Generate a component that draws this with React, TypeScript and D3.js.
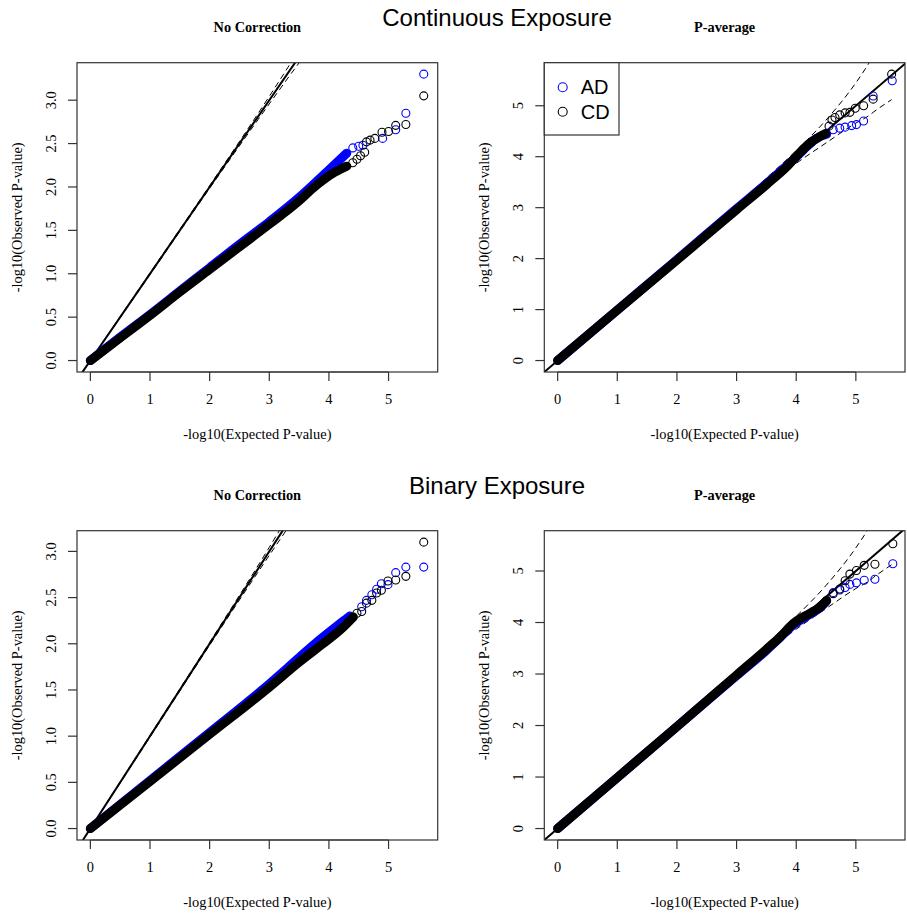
import React from "react";
import * as d3 from "d3";

// ---------- tick labels / titles ----------
const xTicks = [0, 1, 2, 3, 4, 5];
const yTicksNoCorr = [0, 0.5, 1, 1.5, 2, 2.5, 3];
const yTicksPavg = [0, 1, 2, 3, 4, 5];
const columnTitles = ["No Correction", "P-average"];
const rowTitles = ["Continuous Exposure", "Binary Exposure"];
const seriesNames = ["AD", "CD"];
const seriesColors = ["#0000ff", "#000000"];
const xLabel = "-log10(Expected P-value)";
const yLabel = "-log10(Observed P-value)";
const maxExpected = 5.6;

// ---------- 95% band of expected order statistics [expected, lower, upper] ----------
const ciExpected = [0, 1, 2, 3, 3.5, 4, 4.5, 5, 5.21, 5.3, 5.6];
const ciLower = [0, 0.99, 1.985, 2.957, 3.43, 3.87, 4.27, 4.66, 4.8, 4.88, 5.12];
const ciUpper = [0, 1.01, 2.015, 3.044, 3.58, 4.12, 4.72, 5.45, 5.82, 6.0, 7.0];

// ---------- Continuous exposure, no correction ----------
const contNoCorrMax = 3.3;
const contNoCorrADBulk = [[0, 0], [0.5, 0.27], [1, 0.53], [1.5, 0.8], [2, 1.07], [2.5, 1.34], [3, 1.6], [3.5, 1.88], [3.85, 2.1], [4.1, 2.26], [4.3, 2.39]];
const contNoCorrCDBulk = [[0, 0], [0.5, 0.26], [1, 0.52], [1.5, 0.79], [2, 1.05], [2.5, 1.31], [3, 1.57], [3.5, 1.84], [3.74, 1.99], [4.1, 2.17], [4.3, 2.24]];
const contNoCorrADTail = [[4.4, 2.45], [4.5, 2.47], [4.57, 2.48], [4.9, 2.56], [5.12, 2.66], [5.29, 2.85], [5.59, 3.3]];
const contNoCorrCDTail = [[4.4, 2.28], [4.47, 2.32], [4.53, 2.36], [4.6, 2.4], [4.63, 2.52], [4.69, 2.54], [4.77, 2.56], [4.89, 2.63], [5.0, 2.64], [5.12, 2.71], [5.29, 2.72], [5.59, 3.05]];

// ---------- Continuous exposure, P-average ----------
const contPavgMax = 5.62;
const contPavgADBulk = [[0, 0], [1, 0.99], [2, 1.98], [3, 2.98], [3.5, 3.47], [3.84, 3.82], [4.06, 4.06], [4.18, 4.2], [4.34, 4.36], [4.51, 4.44]];
const contPavgCDBulk = [[0, 0], [1, 0.99], [2, 1.97], [3, 2.96], [3.5, 3.45], [3.84, 3.8], [4.06, 4.08], [4.2, 4.24], [4.4, 4.4], [4.5, 4.46]];
const contPavgADTail = [[4.62, 4.53], [4.73, 4.56], [4.82, 4.58], [4.93, 4.61], [5.01, 4.63], [5.13, 4.7], [5.29, 5.19], [5.61, 5.49]];
const contPavgCDTail = [[4.55, 4.6], [4.6, 4.72], [4.65, 4.77], [4.73, 4.82], [4.82, 4.86], [4.9, 4.87], [4.99, 4.95], [5.13, 5.0], [5.29, 5.13], [5.6, 5.62]];

// ---------- Binary exposure, no correction ----------
const binNoCorrMax = 3.1;
const binNoCorrADBulk = [[0, 0], [1, 0.52], [2, 1.04], [2.88, 1.5], [3.5, 1.85], [3.8, 2.02], [4.07, 2.16], [4.25, 2.25], [4.35, 2.3]];
const binNoCorrCDBulk = [[0, 0], [1, 0.51], [2, 1.02], [3, 1.53], [3.5, 1.8], [3.9, 2.0], [4.19, 2.15], [4.41, 2.29]];
const binNoCorrADTail = [[4.55, 2.4], [4.63, 2.47], [4.72, 2.53], [4.8, 2.59], [4.88, 2.65], [4.99, 2.64], [5.12, 2.77], [5.29, 2.83], [5.59, 2.83]];
const binNoCorrCDTail = [[4.47, 2.33], [4.55, 2.35], [4.63, 2.44], [4.72, 2.47], [4.8, 2.55], [4.88, 2.58], [4.99, 2.68], [5.12, 2.69], [5.29, 2.73], [5.59, 3.1]];

// ---------- Binary exposure, P-average ----------
const binPavgMax = 5.56;
const binPavgADBulk = [[0, 0], [1, 0.99], [2, 1.98], [3, 2.97], [3.5, 3.46], [3.73, 3.71], [3.95, 3.95], [4.23, 4.16], [4.4, 4.29], [4.51, 4.42]];
const binPavgCDBulk = [[0, 0], [1, 0.99], [2, 1.98], [3, 2.98], [3.5, 3.48], [3.73, 3.72], [3.95, 3.98], [4.23, 4.18], [4.4, 4.3], [4.51, 4.43]];
const binPavgADTail = [[4.62, 4.58], [4.73, 4.63], [4.82, 4.68], [4.9, 4.74], [5.01, 4.77], [5.14, 4.82], [5.32, 4.84], [5.62, 5.14]];
const binPavgCDTail = [[4.62, 4.56], [4.73, 4.65], [4.82, 4.81], [4.9, 4.94], [5.01, 5.01], [5.14, 5.11], [5.32, 5.13], [5.62, 5.53]];

type Pt = number[];
interface Panel {
  row: number; col: number; yMax: number; yTicks: number[]; yFmt: (v: number) => string;
  bulks: Pt[][]; tails: Pt[][]; legend: boolean;
}

const panels: Panel[] = [
  { row: 0, col: 0, yMax: contNoCorrMax, yTicks: yTicksNoCorr, yFmt: d3.format(".1f"), bulks: [contNoCorrADBulk, contNoCorrCDBulk], tails: [contNoCorrADTail, contNoCorrCDTail], legend: false },
  { row: 0, col: 1, yMax: contPavgMax, yTicks: yTicksPavg, yFmt: d3.format("d"), bulks: [contPavgADBulk, contPavgCDBulk], tails: [contPavgADTail, contPavgCDTail], legend: true },
  { row: 1, col: 0, yMax: binNoCorrMax, yTicks: yTicksNoCorr, yFmt: d3.format(".1f"), bulks: [binNoCorrADBulk, binNoCorrCDBulk], tails: [binNoCorrADTail, binNoCorrCDTail], legend: false },
  { row: 1, col: 1, yMax: binPavgMax, yTicks: yTicksPavg, yFmt: d3.format("d"), bulks: [binPavgADBulk, binPavgCDBulk], tails: [binPavgADTail, binPavgCDTail], legend: false },
];

const W = 907, H = 915;
const boxLeft0 = 77, colStep = 467.3, boxW = 360.7;
const boxTop0 = 62.7, rowStep = 468, boxH = 309.3;
const serif = "'Liberation Serif', 'Times New Roman', serif";
const sans = "'Liberation Sans', Arial, Helvetica, sans-serif";
const fs = 14.4;

function PanelView({ p, idx }: { p: Panel; idx: number }) {
  const left = boxLeft0 + p.col * colStep;
  const top = boxTop0 + p.row * rowStep;
  const right = left + boxW, bottom = top + boxH;
  const x = d3.scaleLinear().domain([-0.04 * maxExpected, 1.04 * maxExpected]).range([left, right]);
  const y = d3.scaleLinear().domain([-0.04 * p.yMax, 1.04 * p.yMax]).range([bottom, top]);
  const line = d3.line<Pt>().x((d) => x(d[0])).y((d) => y(d[1]));
  const smooth = d3.line<Pt>().x((d) => x(d[0])).y((d) => y(d[1])).curve(d3.curveMonotoneX);
  const lower: Pt[] = ciExpected.map((e, i) => [e, ciLower[i]]);
  const upper: Pt[] = ciExpected.map((e, i) => [e, ciUpper[i]]);
  const diag: Pt[] = [[-1, -1], [8, 8]];
  const clipId = `clip${idx}`;
  const cx = (left + right) / 2, cy = (top + bottom) / 2;
  return (
    <g>
      <defs>
        <clipPath id={clipId}>
          <rect x={left} y={top} width={boxW} height={boxH} />
        </clipPath>
      </defs>
      <g clipPath={`url(#${clipId})`}>
        <path d={line(diag) || ""} stroke="#000" strokeWidth={2} fill="none" />
        <path d={smooth(lower) || ""} stroke="#000" strokeWidth={1} strokeDasharray="6,4" fill="none" />
        <path d={smooth(upper) || ""} stroke="#000" strokeWidth={1} strokeDasharray="6,4" fill="none" />
        {p.bulks.map((b, si) => (
          <path key={"b" + si} d={smooth(b) || ""} stroke={seriesColors[si]} strokeWidth={9} strokeLinecap="round" strokeLinejoin="round" fill="none" />
        ))}
        {p.tails.map((t, si) =>
          t.map((d, i) => (
            <circle key={`t${si}-${i}`} cx={x(d[0])} cy={y(d[1])} r={4} fill="none" stroke={seriesColors[si]} strokeWidth={1.1} />
          ))
        )}
      </g>
      <rect x={left} y={top} width={boxW} height={boxH} fill="none" stroke="#333" strokeWidth={1.2} />
      <line x1={x(xTicks[0])} x2={x(xTicks[xTicks.length - 1])} y1={bottom} y2={bottom} stroke="#333" strokeWidth={1.2} />
      {xTicks.map((t) => (
        <g key={"xt" + t}>
          <line x1={x(t)} x2={x(t)} y1={bottom} y2={bottom + 9} stroke="#333" strokeWidth={1.2} />
          <text x={x(t)} y={bottom + 32} textAnchor="middle" fontFamily={serif} fontSize={fs}>{d3.format("d")(t)}</text>
        </g>
      ))}
      {p.yTicks.map((t) => (
        <g key={"yt" + t}>
          <line x1={left - 9} x2={left} y1={y(t)} y2={y(t)} stroke="#333" strokeWidth={1.2} />
          <text transform={`translate(${left - 21},${y(t)}) rotate(-90)`} textAnchor="middle" fontFamily={serif} fontSize={fs}>{p.yFmt(t)}</text>
        </g>
      ))}
      <text x={cx} y={bottom + 67} textAnchor="middle" fontFamily={serif} fontSize={fs}>{xLabel}</text>
      <text transform={`translate(${left - 55},${cy}) rotate(-90)`} textAnchor="middle" fontFamily={serif} fontSize={fs}>{yLabel}</text>
      <text x={cx} y={top - 30.7} textAnchor="middle" fontFamily={serif} fontSize={14.3} fontWeight="bold">{columnTitles[p.col]}</text>
      {p.legend && (
        <g>
          <rect x={left} y={top} width={74.7} height={72.3} fill="#fff" stroke="#333" strokeWidth={1.2} />
          {seriesNames.map((n, i) => (
            <g key={n}>
              <circle cx={left + 18.4} cy={top + 24.6 + i * 24.4} r={4.5} fill="none" stroke={seriesColors[i]} strokeWidth={1.1} />
              <text x={left + 36.4} y={top + 31.6 + i * 24.4} fontFamily={sans} fontSize={20}>{n}</text>
            </g>
          ))}
        </g>
      )}
    </g>
  );
}

export default function App() {
  return (
    <svg width={W} height={H} style={{ position: "absolute", left: 0, top: 0, background: "#fff" }}>
      <rect x={0} y={0} width={W} height={H} fill="#fff" />
      {rowTitles.map((t, r) => (
        <text key={t} x={497} y={26 + r * rowStep} textAnchor="middle" fontFamily={sans} fontSize={24}>{t}</text>
      ))}
      {panels.map((p, i) => (
        <PanelView key={i} p={p} idx={i} />
      ))}
    </svg>
  );
}
